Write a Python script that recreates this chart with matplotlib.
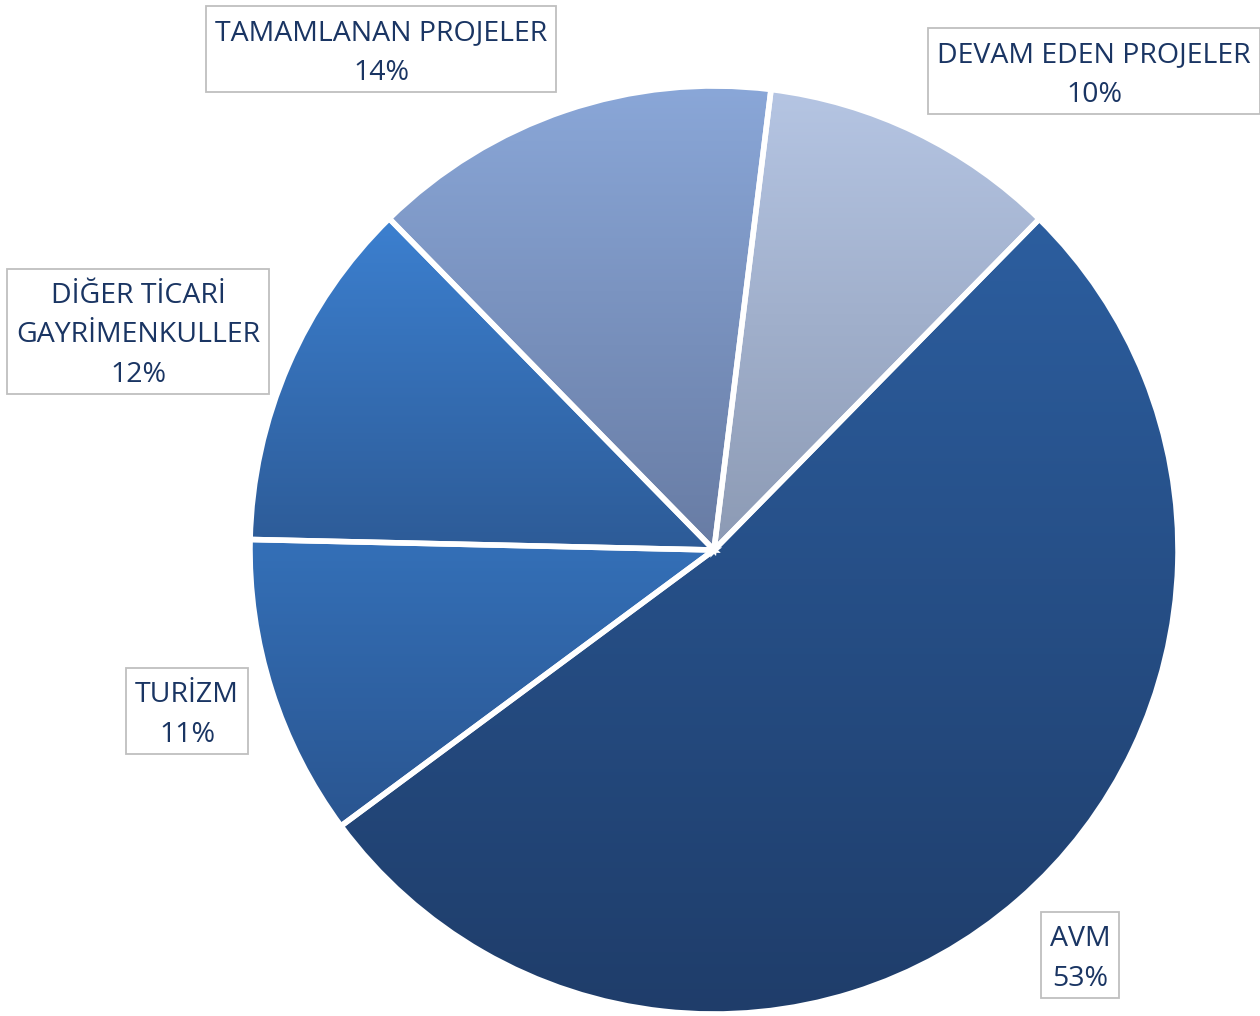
import numpy as np
import matplotlib
matplotlib.use("Agg")
import matplotlib.pyplot as plt
from matplotlib.colors import LinearSegmentedColormap
from matplotlib.patches import Rectangle, Wedge

# ---- data ----
categories = ["AVM", "TURİZM", "DİĞER TİCARİ\nGAYRİMENKULLER", "TAMAMLANAN PROJELER", "DEVAM EDEN PROJELER"]
shares = [52.5, 10.5, 12.3, 14.3, 10.4]
explode = [0.012, 0, 0, 0, 0]
top_colors = ["#2C5E9F", "#3470B8", "#3C80D0", "#8AA7D8", "#B5C5E3"]
bottom_colors = ["#1F3D6A", "#2A5590", "#2D5B97", "#687CA4", "#8C9AB4"]
label_center = [(1080, 956.5), (187, 712.5), (138, 333), (381, 50.5), (1094, 72.5)]  # pixel, from top

W, H = 1260, 1016
fig = plt.figure(figsize=(W / 100, H / 100), dpi=100)
ax = fig.add_axes([0, 0, 1, 1])

cx, cy, R = 714, H - 550, 464
wedges, _ = ax.pie(shares, explode=explode, startangle=45.5, counterclock=False,
                   center=(cx, cy), radius=R, frame=True,
                   wedgeprops=dict(edgecolor="white", linewidth=4.0))
ax.set_xlim(0, W)
ax.set_ylim(0, H)
ax.set_aspect("equal")
ax.axis("off")

for w, c0, c1 in zip(wedges, top_colors, bottom_colors):
    w.set_facecolor("none")
    sh = Wedge((w.center[0] + 1.5, w.center[1] - 2.5), w.r - 1.5, w.theta1, w.theta2,
               facecolor="#C8C8C8", edgecolor="none", alpha=0.6, zorder=0.5)
    ax.add_patch(sh)
    ext = w.get_path().get_extents()
    cmap = LinearSegmentedColormap.from_list("g", [c1, c0])
    grad = np.linspace(0, 1, 256).reshape(-1, 1)
    im = ax.imshow(grad, cmap=cmap, origin="lower", aspect="auto",
                   extent=(ext.x0, ext.x1, ext.y0, ext.y1), zorder=1)
    im.set_clip_path(w)
    w.set_zorder(2)

ax.set_xlim(0, W)
ax.set_ylim(0, H)

texts = []
for cat, v, (lx, ly) in zip(categories, shares, label_center):
    pct = int(v + 0.5)
    t = ax.text(lx, H - (ly + 2.5), f"{cat}\n{pct}%", ha="center", va="center",
                fontsize=20.5, family=["Open Sans", "DejaVu Sans"], fontweight="medium",
                color="#1A3563", linespacing=1.55, zorder=6)
    texts.append(t)

fig.canvas.draw()
r = fig.canvas.get_renderer()
for t, (lx, ly) in zip(texts, label_center):
    bb = t.get_window_extent(r)
    nlines = t.get_text().count("\n") + 1
    bw = bb.width + 18
    bh = 39 * nlines + 8
    xc, yc = (bb.x0 + bb.x1) / 2, H - (ly - 1.5)
    ax.add_patch(Rectangle((xc - bw / 2, yc - bh / 2), bw, bh, facecolor="white",
                           edgecolor="#BFBFBF", linewidth=1.3, zorder=5))

fig.savefig("out.png", dpi=100)
